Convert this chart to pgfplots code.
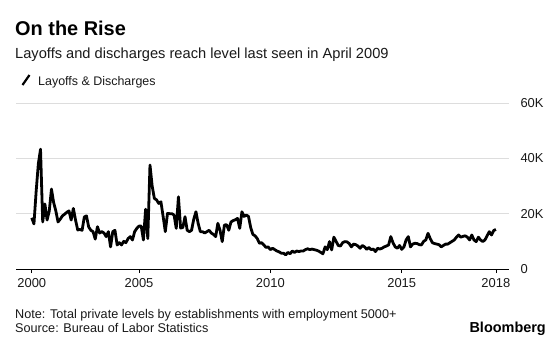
\documentclass[border=0pt]{standalone}
\usepackage{pgfplots}
\pgfplotsset{compat=1.18}
\usepackage{pgfplotstable}
\usepackage{fontspec}
\setmainfont{Liberation Sans}
\definecolor{gridgray}{HTML}{DDDDDD}
\definecolor{txt}{HTML}{1A1A1A}
\pgfplotstableread{
x y
0 18.5
1 16.3
2 28
3 38
4 43.3
5 17
6 23.5
7 17.7
8 21
9 28.9
10 24
11 21
12 17
13 18
14 19.2
15 19.8
16 20.5
17 21
18 17.7
19 21.9
20 17.7
21 14.1
22 14.3
23 14
24 18.8
25 19.2
26 15.2
27 14
28 13.5
29 10.8
30 15.3
31 13
32 13.5
33 13
34 11.7
35 13.5
36 8
37 13.5
38 14
39 8.7
40 9.5
41 8.7
42 10
43 9.5
44 11
45 11.7
46 10.5
47 13.5
48 14.7
49 15.5
50 15.5
51 10.5
52 21.6
53 11
54 37.6
55 30
56 25.5
57 25
58 23.7
59 24.3
60 19
61 13.5
62 20.1
63 20
64 20
65 19.5
66 14.7
67 26.1
68 14.8
69 15
70 18.9
71 14
72 13.5
73 14
74 18
75 20.7
76 16.5
77 13.5
78 13.5
79 13
80 13.5
81 14
82 13
83 12.5
84 11.7
85 16.5
86 14
87 9.9
88 15.9
89 16
90 14
91 17
92 17.5
93 17.8
94 18.3
95 14.7
96 20.7
97 19
98 19.5
99 19
100 15
101 12.5
102 12
103 11
104 9.3
105 9.5
106 8.7
107 7.8
108 8
109 7
110 7.5
111 7
112 6.5
113 6.2
114 5.7
115 5.7
116 5.1
117 6
118 5.5
119 6.5
120 6
121 6.5
122 6.3
123 6.5
124 6.5
125 7
126 7.3
127 7
128 7.2
129 7
130 6.8
131 6.5
132 6
133 5.5
134 8
135 7
136 9.9
137 6.9
138 11.5
139 10
140 8.5
141 8.3
142 9.5
143 9.9
144 9.8
145 9.2
146 8
147 9
148 8.8
149 8.3
150 7.5
151 8.5
152 8
153 7.1
154 7.8
155 7
156 7.2
157 6.3
158 7.5
159 7.2
160 7.5
161 8
162 8.3
163 8.7
164 11.7
165 9.5
166 8
167 7.5
168 8.5
169 7.1
170 8
171 10.5
172 11.7
173 8
174 9
175 9.3
176 9.2
177 8.8
178 8.7
179 10
180 10.5
181 12.9
182 11
183 9.5
184 9.2
185 9
186 8.8
187 8
188 8.5
189 9
190 9
191 9.5
192 10
193 10.5
194 11.5
195 12.3
196 11.5
197 11.8
198 12
199 11.5
200 10.5
201 12.3
202 10.5
203 9.9
204 11.5
205 10.5
206 9.9
207 10.5
208 12
209 13.5
210 12.3
211 13.9
212 14.3
}\layoffs
\begin{document}
\begin{tikzpicture}[x=1bp,y=1bp]
\useasboundingbox (0,0) rectangle (560,341);
\fill[white] (0,0) rectangle (560,341);
\begin{axis}[
  at={(16bp,72bp)}, anchor=south west,
  scale only axis, width=493bp, height=166bp,
  xmin=-7.2, xmax=218, ymin=0, ymax=60,
  axis line style={draw=none},
  xtick={0,49,109,169,212},
  xticklabels={2000,2005,2010,2015,2018},
  xtick pos=bottom, tick align=outside,
  x tick style={draw=black, line width=0.6bp},
  major tick length=4bp,
  ytick={0,20,40,60},
  yticklabels={0,20K,40K,60K},
  yticklabel pos=right,
  y tick style={draw=none},
  ymajorgrids, grid style={gridgray, line width=0.8bp},
  tick label style={font=\fontsize{13}{15}\selectfont, text=txt},
  yticklabel style={anchor=west, xshift=4bp},
  xticklabel style={yshift=-2bp},
  /pgf/number format/assume math mode=true,
  clip=false,
]
\draw[black, line width=0.8bp] (rel axis cs:0,0) -- (rel axis cs:1,0);
\addplot[black, line width=2.8bp, line join=round, mark=none] table[x=x,y=y] {\layoffs};
\end{axis}
\node[anchor=base west, inner sep=0, font=\fontsize{20}{24}\selectfont\bfseries] at (15,306) {On the Rise};
\node[anchor=base west, inner sep=0, font=\fontsize{14.7}{17}\selectfont, text=txt] at (15,282.6) {Layoffs and discharges reach level last seen in April 2009};
\draw[black, line width=2.2bp] (22.5,256) -- (29.5,266);
\node[anchor=base west, inner sep=0, font=\fontsize{12.5}{15}\selectfont, text=txt] at (38,255.7) {Layoffs \& Discharges};
\node[anchor=base west, inner sep=0, font=\fontsize{12.7}{15}\selectfont, text=txt] at (15,23) {Note: Total private levels by establishments with employment 5000+};
\node[anchor=base west, inner sep=0, font=\fontsize{12.7}{15}\selectfont, text=txt] at (15,8.5) {Source: Bureau of Labor Statistics};
\node[anchor=base east, inner sep=0, font=\fontsize{14.5}{17}\selectfont\bfseries] at (546,8.5) {Bloomberg};
\end{tikzpicture}
\end{document}
